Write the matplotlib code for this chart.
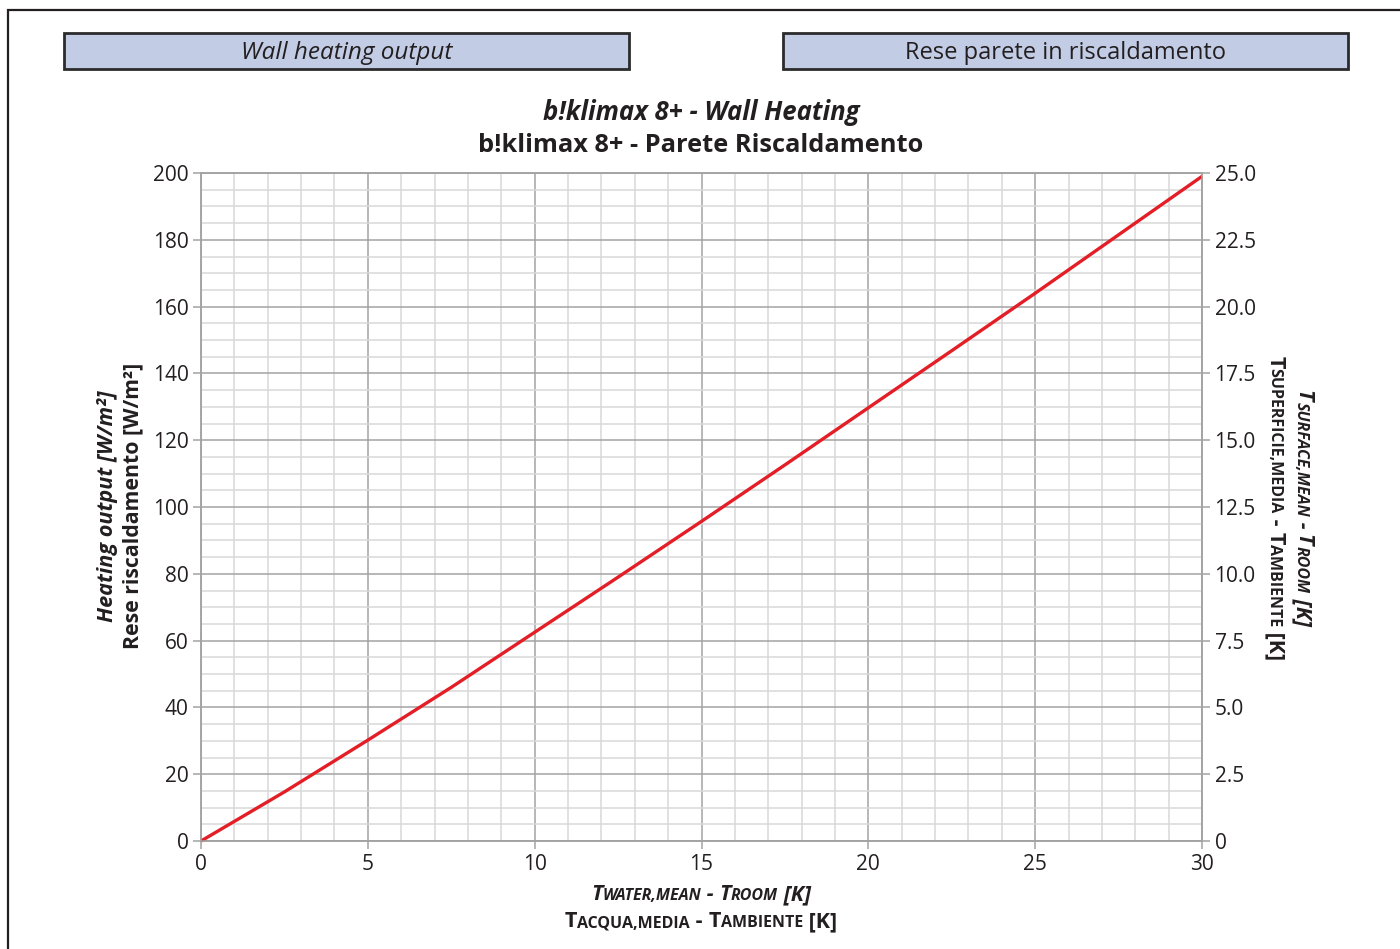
import matplotlib
matplotlib.use("Agg")
import matplotlib.pyplot as plt
from matplotlib.patches import Rectangle
from matplotlib.ticker import MultipleLocator, FuncFormatter
from matplotlib.transforms import IdentityTransform

# ---------------- data ----------------
delta_t = [0, 2.5, 5, 7.5, 10, 12.5, 15, 17.5, 20, 22.5, 25, 27.5, 30]
heating_output = [0, 14.7, 30.2, 46.0, 62.5, 79.0, 95.7, 112.6, 129.7, 146.8, 164.0, 181.5, 199.0]
x_ticks = [0, 5, 10, 15, 20, 25, 30]
y_ticks = [0, 20, 40, 60, 80, 100, 120, 140, 160, 180, 200]
y2_ticks = [0, 2.5, 5.0, 7.5, 10.0, 12.5, 15.0, 17.5, 20.0, 22.5, 25.0]

title_en = "b!klimax 8+ - Wall Heating"
title_it = "b!klimax 8+ - Parete Riscaldamento"
box_en = "Wall heating output"
box_it = "Rese parete in riscaldamento"
ylabel_en = "Heating output [W/m²]"
ylabel_it = "Rese riscaldamento [W/m²]"

FONT = "Open Sans"
plt.rcParams['font.family'] = [FONT, 'DejaVu Sans']
TXT = '#231f20'
W, H = 1400, 949

fig = plt.figure(figsize=(W / 100, H / 100), dpi=100)
fig.patch.set_facecolor('white')

# outer frame
fig.add_artist(Rectangle((8 / W, -0.05), 1.2, (H - 10) / H + 0.05, transform=fig.transFigure,
                         fill=False, edgecolor='#231f20', linewidth=1.6))

# header boxes
for (x0, x1, txt, style, fs) in [(64, 629, box_en, 'italic', 17.5), (783, 1348, box_it, 'normal', 17)]:
    fig.add_artist(Rectangle((x0 / W, (H - 69) / H), (x1 - x0) / W, 36 / H,
                             transform=fig.transFigure, facecolor='#c3cce5',
                             edgecolor='#2b2b2b', linewidth=2.0))
    fig.text((x0 + x1) / 2 / W, (H - 53) / H, txt, ha='center', va='center',
             fontsize=fs, style=style, color=TXT)

# titles
fig.text(701 / W, (H - 113) / H, title_en, ha='center', va='center', fontsize=18.5,
         fontweight='bold', style='italic', color=TXT)
fig.text(701 / W, (H - 146) / H, title_it, ha='center', va='center', fontsize=18.3,
         fontweight='bold', color=TXT)

# axes
ax = fig.add_axes([201 / W, (H - 841) / H, (1202 - 201) / W, (841 - 173) / H])
ax.plot(delta_t, heating_output, color='#e41e26', linewidth=2.4, zorder=5,
        solid_capstyle='butt', clip_on=False)
ax.set_xlim(0, 30)
ax.set_ylim(0, 200)
ax.set_xticks(x_ticks)
ax.set_yticks(y_ticks)
ax.xaxis.set_minor_locator(MultipleLocator(1))
ax.yaxis.set_minor_locator(MultipleLocator(5))
ax.grid(which='major', color='#a3a3a3', linewidth=1.1)
ax.grid(which='minor', color='#d9d9d9', linewidth=1.1)
ax.set_axisbelow(True)
for s in ax.spines.values():
    s.set_color('#a3a3a3')
    s.set_linewidth(1.1)
ax.tick_params(which='major', length=6, width=1.1, color='#a3a3a3', labelsize=15,
               labelcolor=TXT, pad=3)
ax.tick_params(which='minor', length=0)

ax2 = ax.twinx()
ax2.set_ylim(0, 25)
ax2.set_yticks(y2_ticks)
ax2.yaxis.set_major_formatter(FuncFormatter(lambda v, p: '0' if v == 0 else f'{v:.1f}'))
for s in ax2.spines.values():
    s.set_color('#a3a3a3')
    s.set_linewidth(1.1)
ax2.tick_params(which='major', length=6, width=1.1, color='#a3a3a3', labelsize=15,
                labelcolor=TXT, pad=3)

# left y labels
fig.text(107 / W, (H - 506) / H, ylabel_en, rotation=90, ha='center', va='center',
         fontsize=15.6, fontweight='bold', style='italic', color=TXT)
fig.text(133 / W, (H - 506) / H, ylabel_it, rotation=90, ha='center', va='center',
         fontsize=15.3, fontweight='bold', color=TXT)

# small-caps labels built from runs
renderer = fig.canvas.get_renderer()
BIG, SMALL = 15.5, 11.5


def runs_for(parts, style):
    out = []
    for t, big in parts:
        out.append((t, BIG if big else SMALL, style))
    return out


def place_runs(runs, cx, cy, rotation):
    """cx, cy in pixel coords (origin bottom-left); centre of the run line on its baseline."""
    texts = []
    widths = []
    for t, size, style in runs:
        tx = fig.text(0, 0, t, fontsize=size, fontweight='bold', style=style, color=TXT,
                      transform=IdentityTransform(), ha='left', va='baseline',
                      rotation=0, rotation_mode='anchor')
        texts.append(tx)
        widths.append(tx.get_window_extent(renderer).width)
    total = sum(widths)
    pos = -total / 2
    for tx, w in zip(texts, widths):
        if rotation == 0:
            tx.set_position((cx + pos, cy))
        elif rotation == -90:
            tx.set_position((cx, cy - pos))
            tx.set_rotation(-90)
        pos += w


xl_en = runs_for([("T", 1), ("WATER,MEAN", 0), (" - ", 1), ("T", 1), ("ROOM", 0), (" [K]", 1)], 'italic')
xl_it = runs_for([("T", 1), ("ACQUA,MEDIA", 0), (" - ", 1), ("T", 1), ("AMBIENTE", 0), (" [K]", 1)], 'normal')
yr_en = runs_for([("T", 1), ("SURFACE,MEAN", 0), (" - ", 1), ("T", 1), ("ROOM", 0), (" [K]", 1)], 'italic')
yr_it = runs_for([("T", 1), ("SUPERFICIE,MEDIA", 0), (" - ", 1), ("T", 1), ("AMBIENTE", 0), (" [K]", 1)], 'normal')

place_runs(xl_en, 701, H - 900, 0)
place_runs(xl_it, 701, H - 927, 0)
place_runs(yr_en, 1297, H - 508, -90)
place_runs(yr_it, 1270, H - 508, -90)

fig.savefig("out.png", dpi=100, facecolor='white')
